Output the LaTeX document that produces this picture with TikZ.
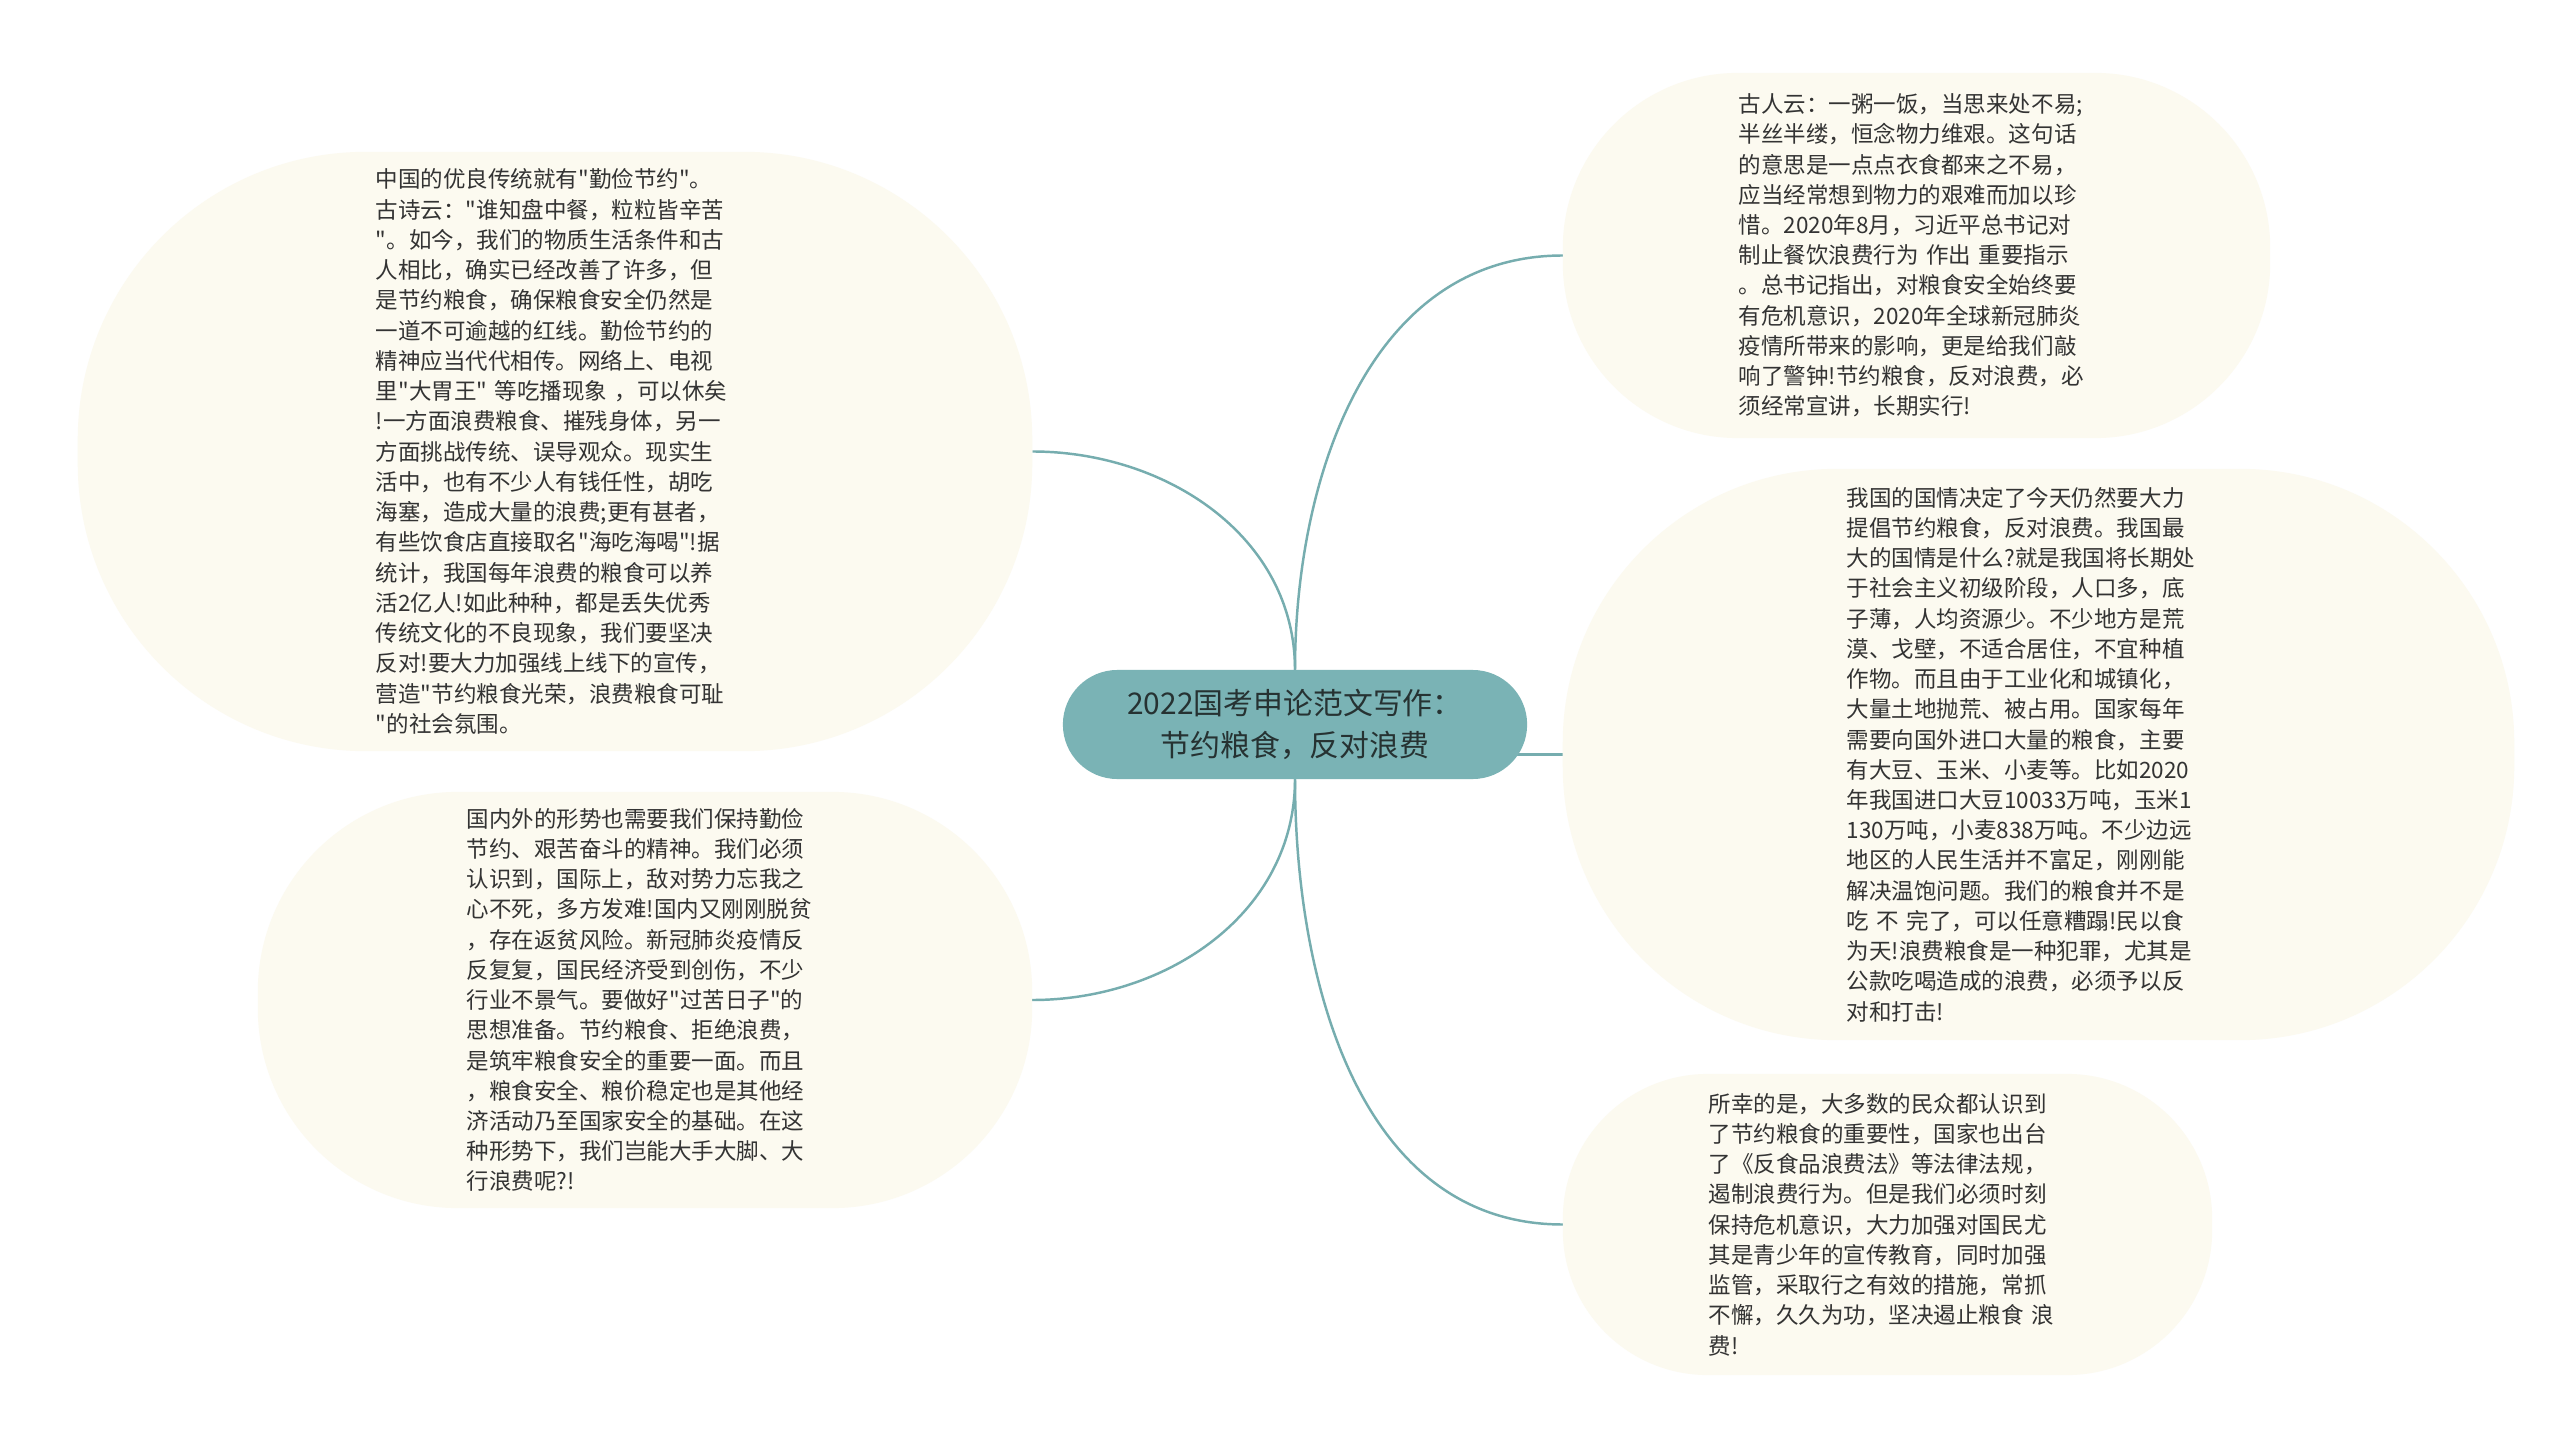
\documentclass[tikz,border=0pt]{standalone}
\usepackage{fontspec}
\newfontfamily\cjkfont{Noto Sans CJK SC}
\usetikzlibrary{backgrounds}
\definecolor{tealnode}{HTML}{7AB3B5}
\definecolor{tealline}{HTML}{76ADAF}
\definecolor{leafcream}{HTML}{FCFAF0}
\definecolor{inktext}{HTML}{333333}
\definecolor{rootink}{HTML}{263232}

\begin{document}
\begin{tikzpicture}[
        x=0.01cm, y=-0.01cm,
        every node/.style={inner sep=0pt, outer sep=0pt},
        root/.style={fill=tealnode, rounded corners=0.545cm, minimum width=4.64cm, minimum height=1.09cm,
            align=center, text=rootink, font=\cjkfont\fontsize{8.5pt}{11.8pt}\selectfont},
        leaf/.style={fill=leafcream, align=left, text=inktext, font=\cjkfont\fontsize{6.4pt}{8.6pt}\selectfont},
        link/.style={draw=tealline, line width=0.7pt}
    ]
        \useasboundingbox (0,0) rectangle (2560,1449);

        % 中心主题
        \node[root] (root) at (1295,724.5) {2022国考申论范文写作：\\节约粮食，反对浪费};

        % 左侧分支
        \node[leaf, text width=3.58cm, minimum width=9.54cm, minimum height=5.99cm, rounded corners=2.88cm] (tradition) at (555,451.5) {%
            中国的优良传统就有"勤俭节约"。\\
            古诗云："谁知盘中餐，粒粒皆辛苦\\
            "。如今，我们的物质生活条件和古\\
            人相比，确实已经改善了许多，但\\
            是节约粮食，确保粮食安全仍然是\\
            一道不可逾越的红线。勤俭节约的\\
            精神应当代代相传。网络上、电视\\
            里"大胃王" 等吃播现象 ，可以休矣\\
            !一方面浪费粮食、摧残身体，另一\\
            方面挑战传统、误导观众。现实生\\
            活中，也有不少人有钱任性，胡吃\\
            海塞，造成大量的浪费;更有甚者，\\
            有些饮食店直接取名"海吃海喝"!据\\
            统计，我国每年浪费的粮食可以养\\
            活2亿人!如此种种，都是丢失优秀\\
            传统文化的不良现象，我们要坚决\\
            反对!要大力加强线上线下的宣传，\\
            营造"节约粮食光荣，浪费粮食可耻\\
            "的社会氛围。};
        \node[leaf, text width=3.56cm, minimum width=7.74cm, minimum height=4.16cm, rounded corners=2.0cm] (situation) at (645,1000) {%
            国内外的形势也需要我们保持勤俭\\
            节约、艰苦奋斗的精神。我们必须\\
            认识到，国际上，敌对势力忘我之\\
            心不死，多方发难!国内又刚刚脱贫\\
            ，存在返贫风险。新冠肺炎疫情反\\
            反复复，国民经济受到创伤，不少\\
            行业不景气。要做好"过苦日子"的\\
            思想准备。节约粮食、拒绝浪费，\\
            是筑牢粮食安全的重要一面。而且\\
            ，粮食安全、粮价稳定也是其他经\\
            济活动乃至国家安全的基础。在这\\
            种形势下，我们岂能大手大脚、大\\
            行浪费呢?!};

        % 右侧分支
        \node[leaf, text width=3.55cm, minimum width=7.07cm, minimum height=3.65cm, rounded corners=1.75cm] (ancients) at (1916.5,255.5) {%
            古人云：一粥一饭，当思来处不易;\\
            半丝半缕，恒念物力维艰。这句话\\
            的意思是一点点衣食都来之不易，\\
            应当经常想到物力的艰难而加以珍\\
            惜。2020年8月，习近平总书记对\\
            制止餐饮浪费行为 作出 重要指示\\
            。总书记指出，对粮食安全始终要\\
            有危机意识，2020年全球新冠肺炎\\
            疫情所带来的影响，更是给我们敲\\
            响了警钟!节约粮食，反对浪费，必\\
            须经常宣讲，长期实行!};
        \node[leaf, text width=3.83cm, minimum width=9.51cm, minimum height=5.71cm, rounded corners=2.74cm] (nation) at (2038.5,754.5) {%
            我国的国情决定了今天仍然要大力\\
            提倡节约粮食，反对浪费。我国最\\
            大的国情是什么?就是我国将长期处\\
            于社会主义初级阶段，人口多，底\\
            子薄，人均资源少。不少地方是荒\\
            漠、戈壁，不适合居住，不宜种植\\
            作物。而且由于工业化和城镇化，\\
            大量土地抛荒、被占用。国家每年\\
            需要向国外进口大量的粮食，主要\\
            有大豆、玉米、小麦等。比如2020\\
            年我国进口大豆10033万吨，玉米1\\
            130万吨，小麦838万吨。不少边远\\
            地区的人民生活并不富足，刚刚能\\
            解决温饱问题。我们的粮食并不是\\
            吃 不 完了，可以任意糟蹋!民以食\\
            为天!浪费粮食是一种犯罪，尤其是\\
            公款吃喝造成的浪费，必须予以反\\
            对和打击!};
        \node[leaf, text width=3.57cm, minimum width=6.49cm, minimum height=3.01cm, rounded corners=1.45cm] (law) at (1887.5,1224.5) {%
            所幸的是，大多数的民众都认识到\\
            了节约粮食的重要性，国家也出台\\
            了《反食品浪费法》等法律法规，\\
            遏制浪费行为。但是我们必须时刻\\
            保持危机意识，大力加强对国民尤\\
            其是青少年的宣传教育，同时加强\\
            监管，采取行之有效的措施，常抓\\
            不懈，久久为功，坚决遏止粮食 浪\\
            费!};

        % 连线
        \begin{scope}[on background layer]
            \fill[white] (0,0) rectangle (2560,1449);
            \draw[link] (root.north) to[out=90, in=0] (tradition.east);
            \draw[link] (root.south) to[out=-90, in=0] (situation.east);
            \draw[link] (root.north) to[out=90, in=180] (ancients.west);
            \draw[link] (root.center |- nation.west) -- (nation.west);
            \draw[link] (root.south) to[out=-90, in=180] (law.west);
        \end{scope}
    \end{tikzpicture}
\end{document}
